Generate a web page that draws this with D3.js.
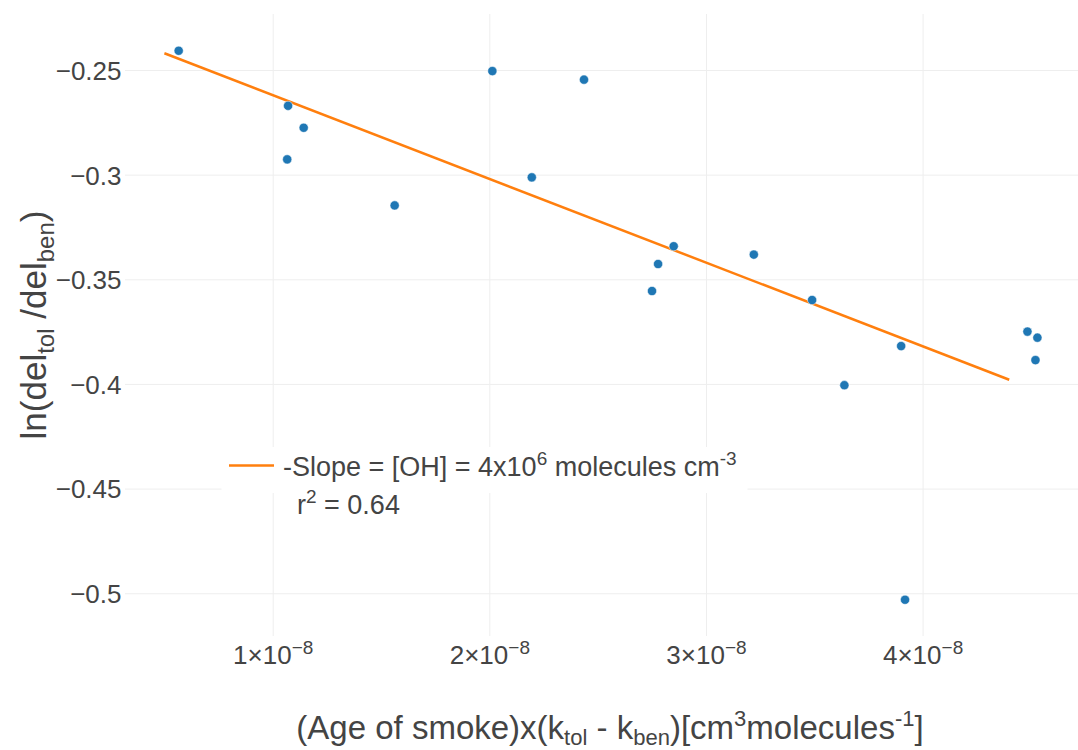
<!DOCTYPE html>
<html>
<head>
<meta charset="utf-8">
<script src="https://cdn.jsdelivr.net/npm/d3@7"></script>
<style>
  body { margin: 0; background: #fff; }
  text { font-family: "Liberation Sans", Arial, sans-serif; fill: #444; }
</style>
</head>
<body>
<svg id="chart" width="1078" height="750"></svg>
<script>
// measured points: (age of smoke) x (k_tol - k_ben)  vs  ln(del_tol / del_ben)
const ageK = [0.566e-8, 1.071e-8, 1.143e-8, 1.067e-8, 1.563e-8, 2.014e-8, 2.437e-8, 2.196e-8, 2.851e-8, 2.779e-8,
              2.751e-8, 3.221e-8, 3.490e-8, 3.639e-8, 3.901e-8, 4.484e-8, 4.530e-8, 4.521e-8, 3.919e-8];
const lnRatio = [-0.2408, -0.2671, -0.2776, -0.2927, -0.3147, -0.2505, -0.2546, -0.3013, -0.3342, -0.3427,
                 -0.3556, -0.3382, -0.3599, -0.4006, -0.3819, -0.3750, -0.3779, -0.3886, -0.5031];

// linear fit end points
const fitX = [0.5e-8, 4.4e-8];
const fitY = [-0.242, -0.398];

const xTicks = [1e-8, 2e-8, 3e-8, 4e-8];
const yTicks = [-0.25, -0.3, -0.35, -0.4, -0.45, -0.5];
const xRange = [0.3182e-8, 4.7174e-8];
const yRange = [-0.52043, -0.22324];

const fitLabel = ["-Slope = [OH] = 4x10", "6", " molecules cm", "-3"];
const r2Label = ["r", "2", " = 0.64"];

const svg = d3.select("#chart");
const plot = { left: 125, top: 14, width: 953, height: 622 };

const x = d3.scaleLinear().domain(xRange).range([0, plot.width]);
const y = d3.scaleLinear().domain(yRange).range([plot.height, 0]);

const g = svg.append("g")
  .attr("transform", `translate(${plot.left},${plot.top})`);

// x axis + vertical grid
const xAxis = g.append("g")
  .attr("transform", `translate(0,${plot.height})`)
  .call(d3.axisBottom(x).tickValues(xTicks).tickSize(-plot.height).tickPadding(10));
xAxis.select(".domain").remove();
xAxis.selectAll(".tick line").attr("stroke", "#eee");
xAxis.selectAll(".tick text")
  .attr("font-size", 26)
  .each(function(d) {
    const e = Math.floor(Math.log10(d) + 1e-9);
    const m = Math.round(d / Math.pow(10, e));
    const t = d3.select(this).text(null);
    t.append("tspan").text(m + "×10");
    t.append("tspan").attr("dy", -10).attr("font-size", 19).text("−" + Math.abs(e));
  });

// y axis + horizontal grid
const yAxis = g.append("g")
  .call(d3.axisLeft(y).tickValues(yTicks).tickSize(-plot.width).tickPadding(3.5).tickFormat(d3.format("")));
yAxis.select(".domain").remove();
yAxis.selectAll(".tick line").attr("stroke", "#eee");
yAxis.selectAll(".tick text").attr("font-size", 26).attr("dy", "0.36em");

// fit line
const line = d3.line().x(d => x(d[0])).y(d => y(d[1]));
g.append("path")
  .datum(d3.zip(fitX, fitY))
  .attr("d", line)
  .attr("fill", "none")
  .attr("stroke", "#ff7f0e")
  .attr("stroke-width", 2.5);

// points
g.selectAll(".dot")
  .data(d3.zip(ageK, lnRatio))
  .enter().append("circle")
    .attr("class", "dot")
    .attr("cx", d => x(d[0]))
    .attr("cy", d => y(d[1]))
    .attr("r", 4.6)
    .attr("fill", "#1f77b4")
    .attr("stroke", "#fff")
    .attr("stroke-width", 0.5);

// legend
const leg = svg.append("g");
leg.append("rect")
  .attr("x", 221.5).attr("y", 447).attr("width", 526).attr("height", 46)
  .attr("fill", "#fff");
leg.append("line")
  .attr("x1", 229).attr("x2", 274).attr("y1", 465.5).attr("y2", 465.5)
  .attr("stroke", "#ff7f0e").attr("stroke-width", 2.5);
const lt = leg.append("text").attr("x", 283).attr("y", 476).attr("font-size", 27);
lt.append("tspan").text(fitLabel[0]);
lt.append("tspan").attr("dy", -11).attr("font-size", 19).text(fitLabel[1]);
lt.append("tspan").attr("dy", 11).text(fitLabel[2]);
lt.append("tspan").attr("dy", -11).attr("font-size", 19).text(fitLabel[3]);

const rt = svg.append("text").attr("x", 297).attr("y", 514).attr("font-size", 27);
rt.append("tspan").text(r2Label[0]);
rt.append("tspan").attr("dy", -11).attr("font-size", 19).text(r2Label[1]);
rt.append("tspan").attr("dy", 11).text(r2Label[2]);

// axis titles
const xt = svg.append("text")
  .attr("x", 610).attr("y", 739)
  .attr("text-anchor", "middle")
  .attr("font-size", 33);
xt.append("tspan").text("(Age of smoke)x(k");
xt.append("tspan").attr("dy", 6).attr("font-size", 22).text("tol");
xt.append("tspan").attr("dy", -6).text(" - k");
xt.append("tspan").attr("dy", 6).attr("font-size", 22).text("ben");
xt.append("tspan").attr("dy", -6).text(")[cm");
xt.append("tspan").attr("dy", -13).attr("font-size", 22).text("3");
xt.append("tspan").attr("dy", 13).text("molecules");
xt.append("tspan").attr("dy", -13).attr("font-size", 22).text("-1");
xt.append("tspan").attr("dy", 13).text("]");

const yt = svg.append("text")
  .attr("transform", `translate(46,${plot.top + plot.height / 2}) rotate(-90)`)
  .attr("text-anchor", "middle")
  .attr("font-size", 35);
yt.append("tspan").text("ln(del");
yt.append("tspan").attr("dy", 8).attr("font-size", 24).text("tol");
yt.append("tspan").attr("dy", -8).text(" /del");
yt.append("tspan").attr("dy", 8).attr("font-size", 24).text("ben");
yt.append("tspan").attr("dy", -8).text(")");
</script>
</body>
</html>
